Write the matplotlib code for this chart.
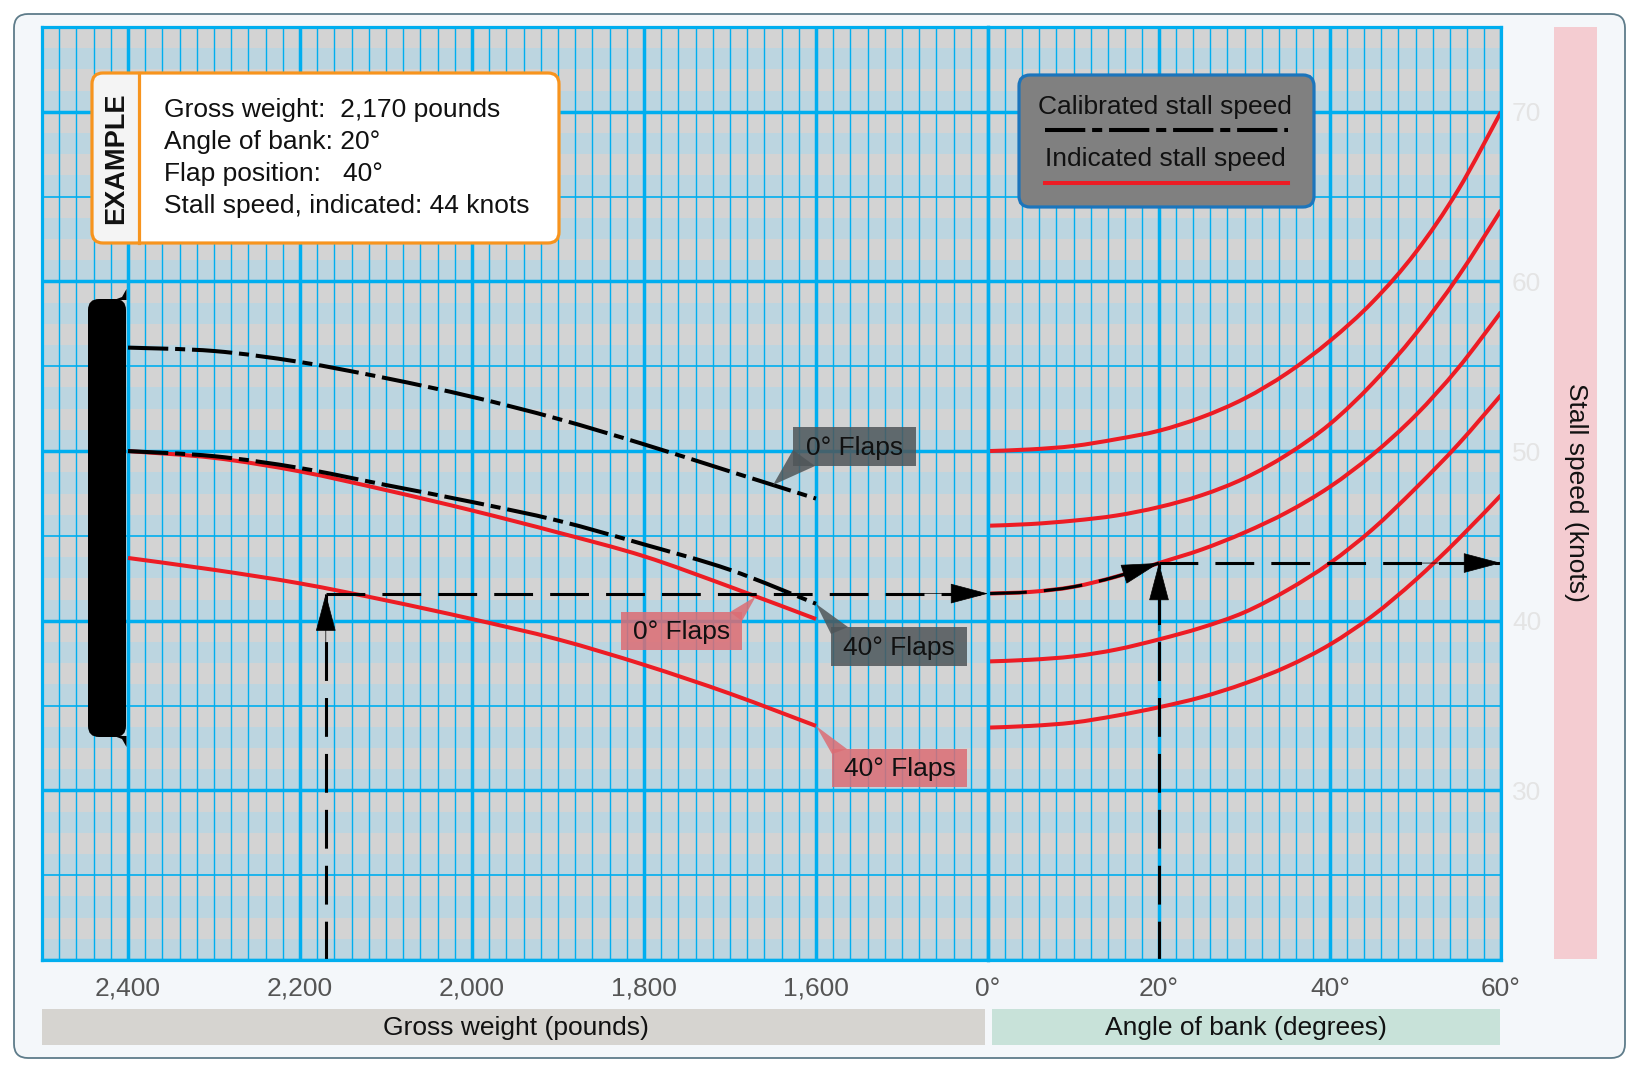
import numpy as np
import matplotlib.pyplot as plt
import matplotlib.transforms as mtransforms
from matplotlib.patches import FancyBboxPatch, Rectangle, Polygon, PathPatch
from matplotlib.path import Path
from matplotlib.lines import Line2D

plt.rcParams['font.family'] = ['Liberation Sans', 'DejaVu Sans']

W, H = 1638, 1072

# ---- data ----
weight = [2400, 2300, 2200, 2100, 2000, 1900, 1800, 1700, 1600]
cas_flaps0 = [56.1, 55.9, 55.25, 54.3, 53.2, 51.9, 50.4, 48.8, 47.2]
cas_flaps40 = [50.0, 49.7, 49.0, 48.0, 47.0, 45.9, 44.5, 43.0, 41.0]
ias_flaps0 = [50.0, 49.6, 48.8, 47.7, 46.5, 45.2, 43.8, 42.0, 40.1]
ias_flaps40 = [43.7, 43.0, 42.2, 41.2, 40.1, 38.9, 37.4, 35.7, 33.8]

bank = [0, 5, 10, 15, 20, 25, 30, 35, 40, 45, 50, 55, 60]
bank_a = [50.0, 50.1, 50.3, 50.7, 51.2, 52.0, 53.1, 54.6, 56.5, 58.8, 61.7, 65.4, 70.0]
bank_b = [45.6, 45.7, 45.9, 46.2, 46.7, 47.4, 48.4, 49.8, 51.6, 54.0, 56.9, 60.3, 64.2]
bank_c = [41.6, 41.7, 42.0, 42.6, 43.4, 44.2, 45.2, 46.4, 47.9, 49.8, 52.1, 54.9, 58.2]
bank_d = [37.6, 37.7, 37.9, 38.3, 38.9, 39.6, 40.5, 41.8, 43.4, 45.4, 47.8, 50.4, 53.3]
bank_e = [33.7, 33.8, 34.0, 34.4, 34.9, 35.5, 36.3, 37.3, 38.6, 40.3, 42.4, 44.8, 47.4]

weight_ticks = [2400, 2200, 2000, 1800, 1600]
weight_labels = ['2,400', '2,200', '2,000', '1,800', '1,600']
bank_ticks = [0, 20, 40, 60]
bank_labels = ['0°', '20°', '40°', '60°']
speed_ticks = [30, 40, 50, 60, 70]

ex_weight = 2170
ex_bank = 20
ex_flaps = 40
ex_speed0 = bank_c[0]
ex_speed = np.interp(ex_bank, bank, bank_c)

RED = '#ed1c24'
GRID = '#00aeef'
DASHDOT = (10, 1.7, 2.5, 1.7)
DASHED = (0, (12.7, 5.6))
FS = 19

fig = plt.figure(figsize=(W / 100, H / 100), dpi=100, facecolor='white')
# pixel coords, origin top-left
px = mtransforms.Affine2D().scale(1 / W, -1 / H).translate(0, 1) + fig.transFigure

fig.add_artist(FancyBboxPatch((14, 14), 1611, 1044, boxstyle='round,pad=0,rounding_size=14',
                              transform=px, fc='#f4f7fa', ec='#5e7c8a', lw=1.3, zorder=-10))

axL = fig.add_axes([42 / W, 1 - 960 / H, 946 / W, 933 / H])
axR = fig.add_axes([988 / W, 1 - 960 / H, 513 / W, 933 / H])
axL.set_xlim(2500, 1400)
axR.set_xlim(0, 60)

for ax in (axL, axR):
    ax.set_ylim(20, 75)
    ax.set_facecolor('#bcd5e0')
    for k0 in range(20, 75, 5):
        for j in (1, 3):
            ax.axhspan(k0 + j * 1.25, k0 + (j + 1) * 1.25, color='#d3d3d3', lw=0, zorder=0)
    for k in range(20, 76, 5):
        ax.axhline(k, color=GRID, lw=2.5 if k % 10 == 0 else 1.2, zorder=1)
    for s in ax.spines.values():
        s.set_color(GRID)
        s.set_linewidth(2.3)
        s.set_zorder(6)

for w in range(1400, 2501, 20):
    axL.axvline(w, color=GRID, lw=2.5 if w % 200 == 0 else 1.0, zorder=1)
for b in range(0, 61, 2):
    axR.axvline(b, color=GRID, lw=2.5 if b % 20 == 0 else 1.0, zorder=1)

axL.set_xticks(weight_ticks, weight_labels)
axR.set_xticks(bank_ticks, bank_labels)
axL.set_yticks([])
axR.yaxis.tick_right()
axR.set_yticks(speed_ticks, [str(v) for v in speed_ticks])
for ax in (axL, axR):
    ax.tick_params(axis='x', length=0, pad=12, labelsize=FS, labelcolor='#555555')
axR.tick_params(axis='y', length=0, pad=8, labelsize=FS, labelcolor='#e4e4e4')


def smooth(ax, xs, ys, **kw):
    # catmull-rom through the read points, drawn as a bezier path
    p = np.column_stack([xs, ys]).astype(float)
    ext = np.vstack([p[0], p, p[-1]])
    verts = [p[0]]
    codes = [Path.MOVETO]
    for i in range(len(p) - 1):
        p0, p1, p2, p3 = ext[i], ext[i + 1], ext[i + 2], ext[i + 3]
        verts += [p1 + (p2 - p0) / 6, p2 - (p3 - p1) / 6, p2]
        codes += [Path.CURVE4] * 3
    ax.add_patch(PathPatch(Path(verts, codes), fill=False, capstyle='butt', **kw))


# ---- curves ----
smooth(axL, weight, ias_flaps0, ec=RED, lw=2.9, zorder=3)
smooth(axL, weight, ias_flaps40, ec=RED, lw=2.9, zorder=3)
smooth(axL, weight, cas_flaps0, ec='black', lw=2.9, ls=(0, DASHDOT), zorder=4)
smooth(axL, weight, cas_flaps40, ec='black', lw=2.9, ls=(0, DASHDOT), zorder=4)
for c in (bank_a, bank_b, bank_c, bank_d, bank_e):
    smooth(axR, bank, c, ec=RED, lw=2.9, zorder=3)

# ---- example path ----
def head(ax, tip, tail):
    ax.annotate('', xy=tip, xytext=tail, annotation_clip=False,
                arrowprops=dict(arrowstyle='-|>,head_length=1.7,head_width=0.45', mutation_scale=15,
                                lw=0.5, fc='black', ec='black', shrinkA=0, shrinkB=0), zorder=7)

axL.plot([ex_weight, ex_weight], [20, ex_speed0], color='black', lw=2.2, ls=DASHED, zorder=5)
axL.plot([ex_weight, 1400], [ex_speed0, ex_speed0], color='black', lw=2.2, ls=DASHED, zorder=5)
head(axL, (ex_weight, ex_speed0), (ex_weight, ex_speed0 - 4))
head(axL, (1400, ex_speed0), (1500, ex_speed0))

seg = [b for b in bank if b <= ex_bank]
smooth(axR, seg, bank_c[:len(seg)], ec='black', lw=2.2, ls=DASHED, zorder=5)
head(axR, (ex_bank, ex_speed), (15, np.interp(15, bank, bank_c)))
axR.plot([ex_bank, ex_bank], [20, ex_speed], color='black', lw=2.2, ls=DASHED, zorder=5)
head(axR, (ex_bank, ex_speed), (ex_bank, ex_speed - 4))
axR.plot([ex_bank, 60], [ex_speed, ex_speed], color='black', lw=2.2, ls=DASHED, zorder=5)
head(axR, (60, ex_speed), (50, ex_speed))


def to_px(ax, x, y):
    dx, dy = ax.transData.transform((x, y))
    return dx, H - dy


# ---- flap labels ----
labels = [
    ('0° Flaps', (793, 427, 123, 39), to_px(axL, 1650, np.interp(-1650, [-w for w in weight], cas_flaps0)),
     [(793, 450), (815, 466)], '#4f5659'),
    ('40° Flaps', (831, 627, 136, 39), to_px(axL, weight[-1], cas_flaps40[-1]),
     [(831, 634), (848, 627)], '#4f5659'),
    ('0° Flaps', (621, 612, 121, 38), to_px(axL, 1670, np.interp(-1670, [-w for w in weight], ias_flaps0)),
     [(730, 612), (742, 621)], '#dc6d74'),
    ('40° Flaps', (832, 749, 135, 38), to_px(axL, weight[-1], ias_flaps40[-1]),
     [(832, 754), (847, 749)], '#dc6d74'),
]
for txt, (x0, y0, bw, bh), tip, base, fc in labels:
    fig.add_artist(Rectangle((x0, y0), bw, bh, transform=px, fc=fc, ec='none', alpha=0.85, zorder=2))
    fig.add_artist(Polygon([base[0], tip, base[1]], closed=True, transform=px, fc=fc, ec='none',
                           alpha=0.85, zorder=2))
    fig.text(x0 + bw / 2, y0 + bh / 2 + 1, txt, transform=px, ha='center', va='center',
             fontsize=FS, color='#111111', zorder=4)

# ---- black bar at left ----
fig.add_artist(FancyBboxPatch((88, 299), 38, 438, boxstyle='round,pad=0,rounding_size=11',
                              transform=px, fc='black', ec='none', zorder=2))
fig.add_artist(Polygon([(114, 300), (122, 297), (126.5, 289), (126.5, 300)], transform=px,
                       fc='black', ec='none', zorder=2))
fig.add_artist(Polygon([(114, 736), (122, 739), (126.5, 747), (126.5, 736)], transform=px,
                       fc='black', ec='none', zorder=2))

# ---- example box ----
fig.add_artist(FancyBboxPatch((92, 73), 467, 170, boxstyle='round,pad=0,rounding_size=11',
                              transform=px, fc='white', ec='none', zorder=2))
fig.add_artist(FancyBboxPatch((92, 73), 60, 170, boxstyle='round,pad=0,rounding_size=11',
                              transform=px, fc='#f4f4f4', ec='none', zorder=2))
fig.add_artist(Rectangle((139, 74), 25, 168, transform=px, fc='white', ec='none', zorder=2))
fig.add_artist(FancyBboxPatch((92, 73), 467, 170, boxstyle='round,pad=0,rounding_size=11',
                              transform=px, fill=False, ec='#f7941e', lw=2.3, zorder=3))
fig.add_artist(Line2D([139, 139], [73, 243], transform=px, color='#f7941e', lw=2.3, zorder=3))
fig.text(116, 158, 'EXAMPLE', transform=px, rotation=90, ha='center', va='center',
         fontsize=19.5, fontweight='bold', color='#111111', zorder=4)
ex_lines = [f'Gross weight:  {ex_weight:,} pounds',
            f'Angle of bank: {ex_bank}°',
            f'Flap position:   {ex_flaps}°',
            'Stall speed, indicated: 44 knots']
for i, s in enumerate(ex_lines):
    fig.text(164, 110 + i * 32, s, transform=px, ha='left', va='center', fontsize=FS,
             color='#111111', zorder=4)

# ---- legend ----
fig.add_artist(FancyBboxPatch((1019, 75), 295, 132, boxstyle='round,pad=0,rounding_size=11',
                              transform=px, fc='#808080', ec='#1c75bc', lw=2.3, zorder=2))
fig.text(1165, 107, 'Calibrated stall speed', transform=px, ha='center', va='center',
         fontsize=FS, color='#111111', zorder=4)
fig.add_artist(Line2D([1045, 1288], [130, 130], transform=px, color='black', lw=2.9,
                      dashes=DASHDOT, zorder=4))
fig.text(1165, 159, 'Indicated stall speed', transform=px, ha='center', va='center',
         fontsize=FS, color='#111111', zorder=4)
fig.add_artist(Line2D([1045, 1288], [183, 183], transform=px, color=RED, lw=2.9, zorder=4))

# ---- axis title bars ----
fig.add_artist(Rectangle((42, 1009), 943, 36, transform=px, fc='#d6d4d0', ec='none', zorder=2))
fig.text(516, 1028, 'Gross weight (pounds)', transform=px, ha='center', va='center',
         fontsize=FS, color='#111111', zorder=4)
fig.add_artist(Rectangle((992, 1009), 508, 36, transform=px, fc='#c8e2d9', ec='none', zorder=2))
fig.text(1246, 1028, 'Angle of bank (degrees)', transform=px, ha='center', va='center',
         fontsize=FS, color='#111111', zorder=4)
fig.add_artist(Rectangle((1554, 27), 43, 932, transform=px, fc='#f4ccd1', ec='none', zorder=2))
fig.text(1576, 492, 'Stall speed (knots)', transform=px, rotation=-90, ha='center', va='center',
         fontsize=FS, color='#111111', zorder=4)

fig.savefig('out.png', dpi=100)
